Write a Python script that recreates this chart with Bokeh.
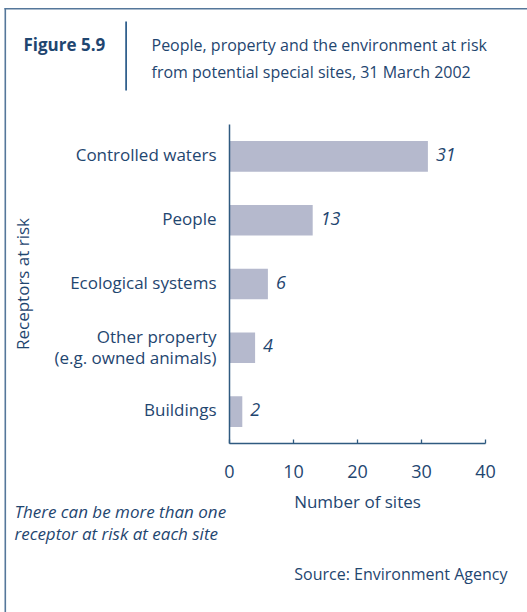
from math import pi
from bokeh.plotting import figure
from bokeh.models import Range1d, FixedTicker, Label, LabelSet, BoxAnnotation, ColumnDataSource
from bokeh.embed import file_html
from bokeh.resources import INLINE
from bokeh.core.properties import value

# ---- data ----
categories = ["Controlled waters", "People", "Ecological systems",
              "Other property (e.g. owned animals)", "Buildings"]
category_labels = ["Controlled waters", "People", "Ecological systems",
                   "Other property\n(e.g. owned animals)", "Buildings"]
counts = [31, 13, 6, 4, 2]
x_ticks = [0, 10, 20, 30, 40]

# ---- style / layout ----
TEXT = "#1f4670"
BAR = "#b5b9cd"
AXIS = "#2f5a80"
FRAME = "#55779a"
FONT = "Open Sans"

W, H = 527, 612
FL, FR, FT, FB = 229, 485, 124, 443   # chart area edges in page px
XMAX = 40
NCAT = len(categories)
XS = (FR - FL) / XMAX
YS = (FB - FT) / NCAT
LINE_H = 21          # px between lines of a wrapped category label


def px_x(px):
    return (px - FL) / XS


def px_y(py):
    return (FB - py) / YS


# category slots, top to bottom, in axis units
slots = [NCAT - 0.5 - i for i in range(NCAT)]

p = figure(width=W, height=H, output_backend="svg", toolbar_location=None,
           x_range=Range1d(px_x(0), px_x(W)),
           y_range=Range1d(px_y(H), px_y(0)),
           min_border=0, min_border_left=0, min_border_right=0,
           min_border_top=0, min_border_bottom=0)
p.outline_line_color = None
p.grid.visible = False
p.background_fill_color = "white"
p.border_fill_color = "white"

src = ColumnDataSource(dict(y=slots, n=counts, lbl=[str(c) for c in counts]))
p.hbar(y="y", left=0, right="n", height=0.48, source=src,
       fill_color=BAR, line_color=None)

# value labels
p.add_layout(LabelSet(x="n", y="y", text="lbl", source=src, x_offset=8, y_offset=2,
                      text_baseline="middle", text_align="left",
                      text_font=value(FONT), text_font_style="italic",
                      text_font_size="18px", text_color=TEXT))

# category labels, one row per text line, each right-aligned
line_y, line_txt = [], []
for s, lab in zip(slots, category_labels):
    parts = lab.split("\n")
    k = len(parts)
    for j, part in enumerate(parts):
        line_y.append(s + (((k - 1) / 2 - j) * LINE_H - (1.5 if k > 1 else 0)) / YS)
        line_txt.append(part)
cat_src = ColumnDataSource(dict(y=line_y, t=line_txt))
p.add_layout(LabelSet(x=0, y="y", text="t", source=cat_src, x_offset=-13, y_offset=2,
                      text_baseline="middle", text_align="right",
                      text_font=value(FONT), text_font_size="17px",
                      text_color=TEXT))

# axes placed at the chart's origin
ya = p.yaxis[0]
ya.fixed_location = 0
ya.bounds = (0, NCAT)
ya.ticker = FixedTicker(ticks=[])
ya.axis_line_color = AXIS
ya.axis_line_width = 1.5
ya.major_tick_line_color = None
ya.minor_tick_line_color = None

xa = p.xaxis[0]
xa.fixed_location = 0
xa.bounds = (0, XMAX)
xa.ticker = FixedTicker(ticks=x_ticks)
xa.axis_line_color = AXIS
xa.axis_line_width = 1.5
xa.major_tick_line_color = AXIS
xa.major_tick_line_width = 1.3
xa.major_tick_in = 4
xa.major_tick_out = 0
xa.minor_tick_line_color = None
xa.major_label_standoff = 21
xa.major_label_text_font = FONT
xa.major_label_text_font_size = "18px"
xa.major_label_text_color = TEXT
xa.axis_label = "Number of sites"
xa.axis_label_text_font = FONT
xa.axis_label_text_font_style = "normal"
xa.axis_label_text_font_size = "17px"
xa.axis_label_text_color = TEXT
xa.axis_label_standoff = 9


def box(l, r, t, b, color):
    p.add_layout(BoxAnnotation(left=px_x(l), right=px_x(r), top=px_y(t), bottom=px_y(b),
                               fill_color=color, fill_alpha=1, line_color=None,
                               level="underlay"))


# page frame and header divider
box(4, 5.6, 7.5, H + 5, FRAME)
box(4, W + 5, 7.5, 9.1, FRAME)
box(124.8, 126.4, 21, 90, "#1a4f80")


def label(text, x, y, size="17px", style="normal", align="left", angle=0):
    p.add_layout(Label(x=px_x(x), y=px_y(y), text=text, text_font=FONT,
                       text_font_size=size, text_font_style=style, angle=angle,
                       text_color=TEXT, text_align=align, text_baseline="middle"))


label("Figure 5.9", 23, 44, size="17px", style="bold")
label("People, property and the environment at risk", 151, 44, size="16px")
label("from potential special sites, 31 March 2002", 151, 71, size="16px")
label("Receptors at risk", 22, (FT + FB) / 2, size="17px", align="center", angle=pi / 2)
label("There can be more than one", 14, 511, style="italic")
label("receptor at risk at each site", 14, 533, style="italic")
label("Source: Environment Agency", 507, 573, size="16px", align="right")

open("out.html", "w").write(file_html(p, INLINE))
